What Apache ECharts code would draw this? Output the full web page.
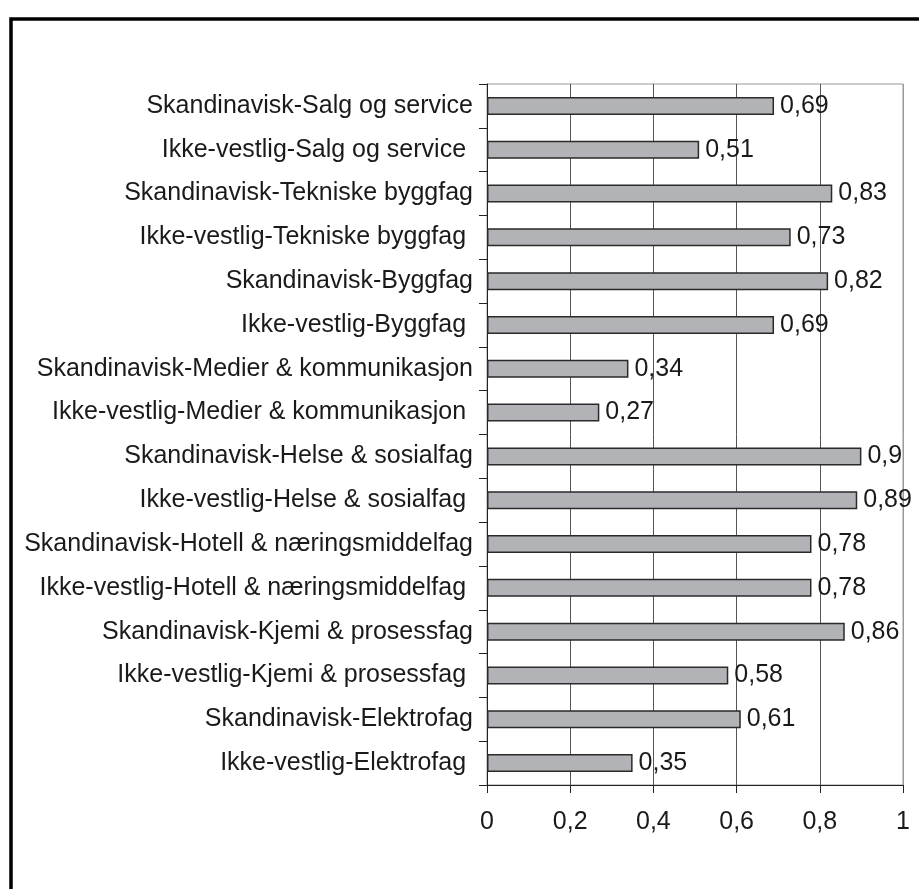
<!DOCTYPE html>
<html>
<head>
<meta charset="utf-8">
<script src="https://cdn.jsdelivr.net/npm/echarts@6/dist/echarts.min.js"></script>
<style>
html,body{margin:0;padding:0;background:#fff;}
#chart{width:919px;height:889px;}
</style>
</head>
<body>
<div id="chart"></div>
<script>
const categories = [
  "Skandinavisk-Salg og service",
  "Ikke-vestlig-Salg og service ",
  "Skandinavisk-Tekniske byggfag",
  "Ikke-vestlig-Tekniske byggfag ",
  "Skandinavisk-Byggfag",
  "Ikke-vestlig-Byggfag ",
  "Skandinavisk-Medier & kommunikasjon",
  "Ikke-vestlig-Medier & kommunikasjon ",
  "Skandinavisk-Helse & sosialfag",
  "Ikke-vestlig-Helse & sosialfag ",
  "Skandinavisk-Hotell & næringsmiddelfag",
  "Ikke-vestlig-Hotell & næringsmiddelfag ",
  "Skandinavisk-Kjemi & prosessfag",
  "Ikke-vestlig-Kjemi & prosessfag ",
  "Skandinavisk-Elektrofag",
  "Ikke-vestlig-Elektrofag "
];
const values = [0.69, 0.51, 0.83, 0.73, 0.82, 0.69, 0.34, 0.27, 0.9, 0.89, 0.78, 0.78, 0.86, 0.58, 0.61, 0.35];
const xTicks = [0, 0.2, 0.4, 0.6, 0.8, 1];

const fmt = v => String(v).replace('.', ',');
const chart = echarts.init(document.getElementById('chart'), null, {renderer: 'canvas'});
const font = 'Liberation Sans, Arial, sans-serif';
chart.setOption({
  animation: false,
  backgroundColor: '#fff',
  graphic: [{
    type: 'rect', z: 100,
    shape: {x: 11, y: 19, width: 1000, height: 1000},
    style: {fill: 'none', stroke: '#000', lineWidth: 3.5}
  }],
  grid: {left: 487, right: 16, top: 84, bottom: 104, show: true, borderColor: '#999', borderWidth: 1},
  xAxis: {
    type: 'value', min: xTicks[0], max: xTicks[xTicks.length - 1], interval: 0.2,
    axisLine: {show: true, lineStyle: {color: '#222', width: 1}},
    axisTick: {show: true, length: 8, lineStyle: {color: '#222'}},
    axisLabel: {margin: 25, fontSize: 25, color: '#1a1a1a', fontFamily: font, formatter: v => fmt(Math.round(v * 10) / 10)},
    splitLine: {show: true, lineStyle: {color: ['#555', '#555', '#555', '#555', '#555', '#999'], width: 1}}
  },
  yAxis: {
    type: 'category', data: categories, inverse: true,
    axisLine: {show: true, lineStyle: {color: '#222', width: 1}},
    axisTick: {show: true, length: 8, lineStyle: {color: '#222'}},
    axisLabel: {margin: 14, fontSize: 25, color: '#1a1a1a', fontFamily: font}
  },
  series: [{
    type: 'bar', data: values, barWidth: '41%',
    itemStyle: {color: '#b2b3b7', borderColor: '#2a2a2a', borderWidth: 1.5},
    label: {show: true, position: 'right', distance: 6, fontSize: 25, color: '#1a1a1a', fontFamily: font, formatter: p => fmt(p.value)}
  }]
});
</script>
</body>
</html>
